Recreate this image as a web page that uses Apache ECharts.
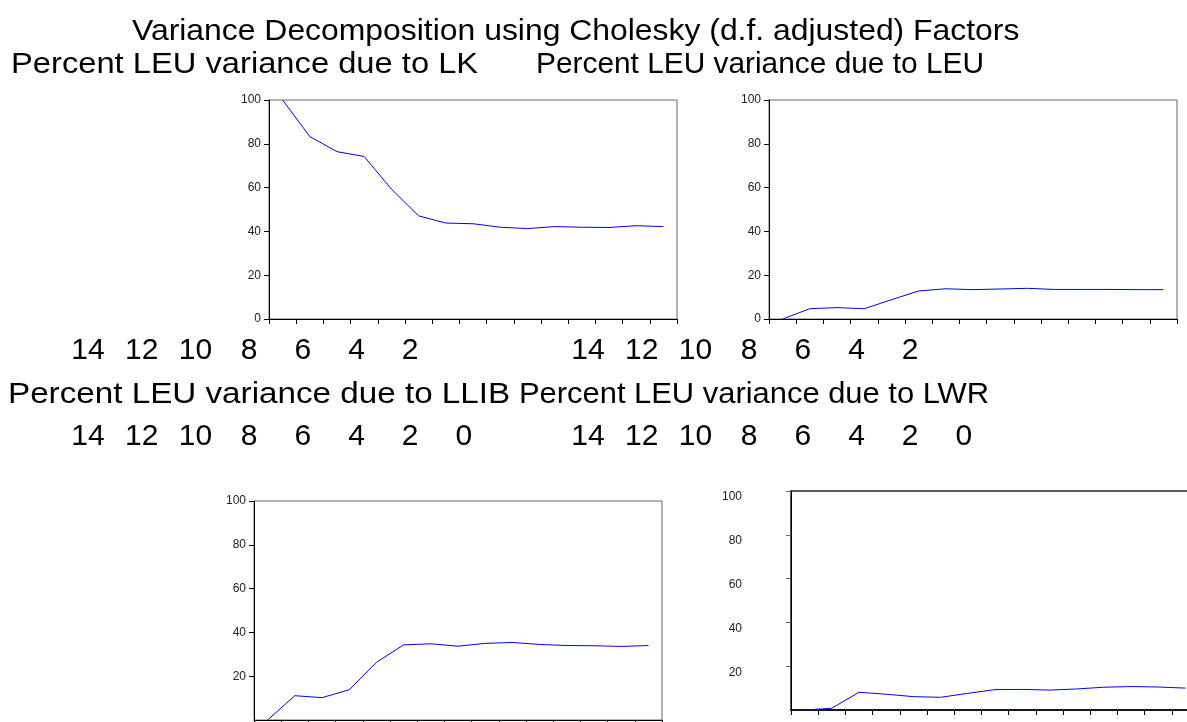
<!DOCTYPE html>
<html>
<head>
<meta charset="utf-8">
<title>Variance Decomposition</title>
<script src="https://cdn.jsdelivr.net/npm/echarts@6/dist/echarts.min.js"></script>
<style>
html, body { margin: 0; padding: 0; background: #fff; }
#main { width: 1187px; height: 722px; }
</style>
</head>
<body>
<div id="main"></div>
<script>
// periods 1..15 of the decomposition
var periods = ['1', '2', '3', '4', '5', '6', '7', '8', '9', '10', '11', '12', '13', '14', '15'];

// percent of LEU forecast variance
var dueToLK   = [100, 83.3, 76.4, 74.2, 59.3, 47.1, 43.8, 43.5, 41.9, 41.3, 42.2, 41.9, 41.8, 42.6, 42.2];
var dueToLEU  = [0, 4.7, 5.2, 4.7, 8.8, 12.8, 13.8, 13.4, 13.7, 14.0, 13.5, 13.5, 13.5, 13.4, 13.4];
var dueToLLIB = [0, 11.1, 10.2, 13.8, 26.3, 34.3, 34.8, 33.7, 35.0, 35.4, 34.5, 34.0, 33.9, 33.6, 34.0];
var dueToLWR  = [0, 0.8, 8.1, 7.2, 6.1, 5.8, 7.6, 9.3, 9.4, 9.1, 9.6, 10.4, 10.7, 10.5, 10.0];

// loose tick label rows that float between the panels
var strayTicks7 = ['14', '12', '10', '8', '6', '4', '2'];
var strayTicks8 = ['14', '12', '10', '8', '6', '4', '2', '0'];

var titleText = 'Variance Decomposition using Cholesky (d.f. adjusted) Factors';
var panelTitles = [
    'Percent LEU variance due to LK',
    'Percent LEU variance due to LEU',
    'Percent LEU variance due to LLIB',
    'Percent LEU variance due to LWR'
];

(function(){
    var chart = echarts.init(document.getElementById('main'));
    var FONT = '"Liberation Sans", Arial, sans-serif';

    var panels = [
        { left: 269, top: 100, data: dueToLK,   zero: true,  margin: 8,  vAlign: 'middle' },
        { left: 769, top: 100, data: dueToLEU,  zero: true,  margin: 8,  vAlign: 'middle' },
        { left: 254, top: 501, data: dueToLLIB, zero: false, margin: 8,  vAlign: 'middle' },
        { left: 791, top: 491, data: dueToLWR,  zero: false, margin: 49, vAlign: 'top' }
    ];

    var grids = [], xAxes = [], yAxes = [], series = [];
    panels.forEach(function (p, i) {
        grids.push({
            left: p.left, top: p.top, width: 408, height: 219,
            show: true, borderColor: i == 3 ? '#222' : '#666', borderWidth: i == 3 ? 1.5 : 1,
            backgroundColor: 'transparent',
            containLabel: false, outerBoundsMode: 'none'
        });
        xAxes.push({
            type: 'category', gridIndex: i, data: periods, boundaryGap: true,
            axisLine: { lineStyle: { color: '#000', width: i == 3 ? 1.5 : 1 } },
            axisTick: { show: true, length: 5, lineStyle: { color: '#000' } },
            axisLabel: { show: false },
            splitLine: { show: false }
        });
        yAxes.push({
            type: 'value', gridIndex: i, min: 0, max: 100, interval: 20,
            axisLine: { show: true, lineStyle: { color: '#000' } },
            axisTick: { show: true, length: 5, lineStyle: { color: i == 3 ? '#666' : '#000' } },
            axisLabel: {
                margin: p.margin, fontSize: 12, color: '#222', fontFamily: FONT,
                verticalAlign: p.vAlign,
                showMinLabel: p.zero
            },
            splitLine: { show: false }
        });
        series.push({
            type: 'line', xAxisIndex: i, yAxisIndex: i, data: p.data,
            symbol: 'none', smooth: false,
            lineStyle: { color: '#0000ff', width: 1 },
            itemStyle: { color: '#0000ff' }
        });
    });

    // the exported texts are a little stretched sideways, hence sx
    function txt(s, x, y, align, sx) {
        return {
            type: 'text', x: x, y: y, scaleX: sx || 1,
            style: {
                text: s, fill: '#000', font: '30px ' + FONT,
                align: align, verticalAlign: 'middle',
                textAlign: align, textVerticalAlign: 'middle'
            }
        };
    }

    var graphics = [];
    graphics.push(txt(titleText, 132, 32, 'left', 1.063));
    graphics.push(txt(panelTitles[0], 11, 65, 'left', 1.09));
    graphics.push(txt(panelTitles[1], 536, 65, 'left', 0.995));
    graphics.push(txt(panelTitles[2], 8, 395, 'left', 1.107));
    graphics.push(txt(panelTitles[3], 519, 395, 'left', 1.03));

    // tick label rows: row 1 at y 351, row 3 at y 437
    var step = 53.7;
    [88, 588].forEach(function (x0) {
        strayTicks7.forEach(function (s, k) {
            graphics.push(txt(s, x0 + k * step, 351, 'center'));
        });
        strayTicks8.forEach(function (s, k) {
            graphics.push(txt(s, x0 + k * step, 437, 'center'));
        });
    });

    var option = {
        animation: false,
        backgroundColor: '#fff',
        grid: grids,
        xAxis: xAxes,
        yAxis: yAxes,
        series: series,
        graphic: graphics
    };
    chart.setOption(option);
})();
</script>
</body>
</html>
